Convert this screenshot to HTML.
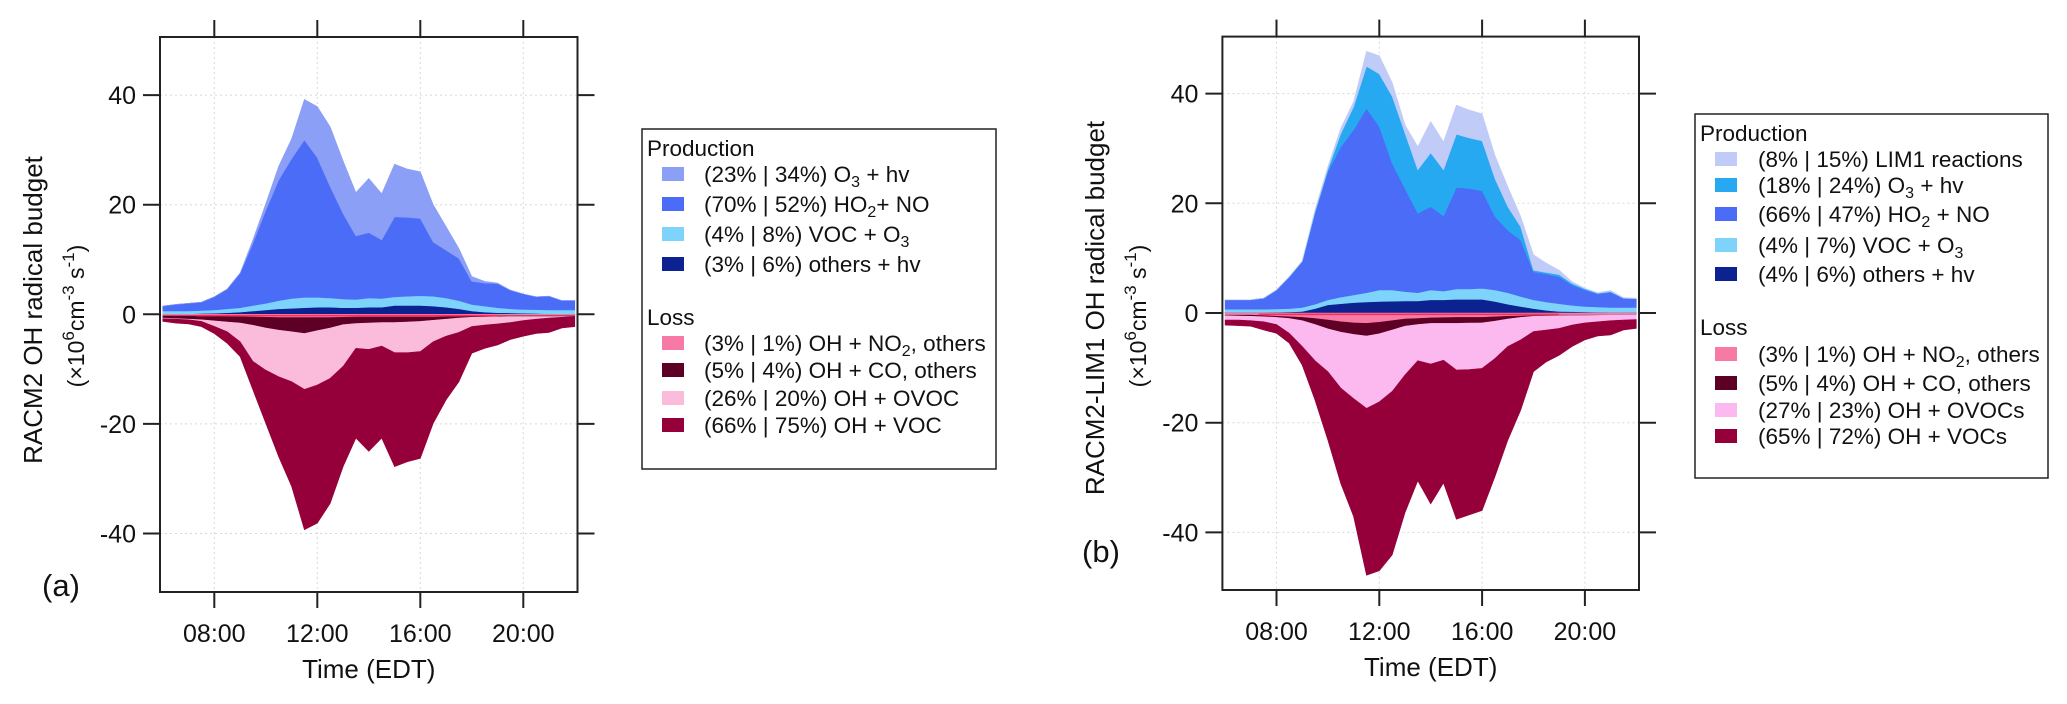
<!DOCTYPE html>
<html><head><meta charset="utf-8"><style>
html,body{margin:0;padding:0;background:#fff}
svg text{font-family:"Liberation Sans",Arial,sans-serif;fill:#111}
</style></head><body>
<svg id="fig" width="2067" height="699" viewBox="0 0 2067 699" xmlns="http://www.w3.org/2000/svg">
<g id="panelA"></g>
<g id="panelB"></g>
<text x="42" y="596" font-size="31">(a)</text>
<text x="1082" y="562" font-size="31">(b)</text>
<text transform="translate(42,310) rotate(-90)" text-anchor="middle" font-size="26">RACM2 OH radical budget</text>
<text transform="translate(84,316) rotate(-90)" text-anchor="middle" font-size="23">(×10<tspan dy="-10" font-size="17">6</tspan><tspan dy="10">cm</tspan><tspan dy="-10" font-size="17">-3</tspan><tspan dy="10"> s</tspan><tspan dy="-10" font-size="17">-1</tspan><tspan dy="10">)</tspan></text>
<text transform="translate(1104,308) rotate(-90)" text-anchor="middle" font-size="26">RACM2-LIM1 OH radical budget</text>
<text transform="translate(1146,316) rotate(-90)" text-anchor="middle" font-size="23">(×10<tspan dy="-10" font-size="17">6</tspan><tspan dy="10">cm</tspan><tspan dy="-10" font-size="17">-3</tspan><tspan dy="10"> s</tspan><tspan dy="-10" font-size="17">-1</tspan><tspan dy="10">)</tspan></text>

<g>
<rect x="642" y="129" width="354" height="340" fill="#fff" stroke="#222" stroke-width="1.5"/>
<g font-size="22.5">
<text x="647" y="156">Production</text>
<rect x="662" y="167" width="22" height="14" fill="#8b9ff7"/><text x="704" y="182">(23% | 34%) O<tspan dy="5" font-size="16">3</tspan><tspan dy="-5"> + hv</tspan></text>
<rect x="662" y="197" width="22" height="14" fill="#4a6cf7"/><text x="704" y="212">(70% | 52%) HO<tspan dy="5" font-size="16">2</tspan><tspan dy="-5">+ NO</tspan></text>
<rect x="662" y="227" width="22" height="14" fill="#7dd3fa"/><text x="704" y="242">(4% | 8%) VOC + O<tspan dy="5" font-size="16">3</tspan></text>
<rect x="662" y="257" width="22" height="14" fill="#0c2290"/><text x="704" y="272">(3% | 6%)  others + hv</text>
<text x="647" y="325">Loss</text>
<rect x="662" y="336" width="22" height="14" fill="#f77aa6"/><text x="704" y="351">(3% | 1%) OH + NO<tspan dy="5" font-size="16">2</tspan><tspan dy="-5">, others</tspan></text>
<rect x="662" y="363" width="22" height="14" fill="#5e0025"/><text x="704" y="378">(5% | 4%) OH + CO, others</text>
<rect x="662" y="391" width="22" height="14" fill="#fbbcdc"/><text x="704" y="406">(26% | 20%) OH + OVOC</text>
<rect x="662" y="418" width="22" height="14" fill="#95003a"/><text x="704" y="433">(66% | 75%) OH + VOC</text>
</g></g>

<g>
<rect x="1695" y="114" width="353" height="364" fill="#fff" stroke="#222" stroke-width="1.5"/>
<g font-size="22.5">
<text x="1700" y="141">Production</text>
<rect x="1715" y="152" width="22" height="14" fill="#c0cbf8"/><text x="1758" y="167">(8% | 15%) LIM1 reactions</text>
<rect x="1715" y="178" width="22" height="14" fill="#27a9f2"/><text x="1758" y="193">(18% | 24%) O<tspan dy="5" font-size="16">3</tspan><tspan dy="-5"> + hv</tspan></text>
<rect x="1715" y="207" width="22" height="14" fill="#4a6cf7"/><text x="1758" y="222">(66% | 47%) HO<tspan dy="5" font-size="16">2</tspan><tspan dy="-5"> + NO</tspan></text>
<rect x="1715" y="238" width="22" height="14" fill="#7dd3fa"/><text x="1758" y="253">(4% | 7%) VOC + O<tspan dy="5" font-size="16">3</tspan></text>
<rect x="1715" y="267" width="22" height="14" fill="#0c2290"/><text x="1758" y="282">(4% | 6%)  others + hv</text>
<text x="1700" y="335">Loss</text>
<rect x="1715" y="347" width="22" height="14" fill="#f77aa6"/><text x="1758" y="362">(3% | 1%) OH + NO<tspan dy="5" font-size="16">2</tspan><tspan dy="-5">, others</tspan></text>
<rect x="1715" y="376" width="22" height="14" fill="#5e0025"/><text x="1758" y="391">(5% | 4%) OH + CO, others</text>
<rect x="1715" y="403" width="22" height="14" fill="#fbb9ef"/><text x="1758" y="418">(27% | 23%) OH + OVOCs</text>
<rect x="1715" y="429" width="22" height="14" fill="#95003a"/><text x="1758" y="444">(65% | 72%) OH + VOCs</text>
</g></g>
</svg>
<script>
// time axis (hours EDT)
const times = [6,6.5,7,7.5,8,8.5,9,9.5,10,10.5,11,11.5,12,12.5,13,13.5,14,14.5,15,15.5,16,16.5,17,17.5,18,18.5,19,19.5,20,20.5,21,21.5,22];
const xTickValues = [8,12,16,20];
const xTickLabels = ["08:00","12:00","16:00","20:00"];
const yTickValues = [-40,-20,0,20,40];
const yTickLabels = ["-40","-20","0","20","40"];

// Panel (a) production components (stack bottom -> top)
const aOthersHv = [0.1,0.1,0.1,0.15,0.2,0.3,0.4,0.6,0.8,1.0,1.1,1.2,1.3,1.3,1.2,1.2,1.3,1.3,1.6,1.6,1.6,1.5,1.3,1.0,0.6,0.4,0.3,0.25,0.2,0.15,0.1,0.1,0.1];
const aVocO3 = [0.5,0.5,0.5,0.55,0.6,0.7,0.8,1.0,1.2,1.5,1.8,1.9,1.8,1.7,1.6,1.5,1.7,1.6,1.6,1.7,1.8,1.8,1.7,1.5,1.2,1.1,0.9,0.75,0.7,0.7,0.7,0.7,0.7];
const aHo2No = [0.9,1.2,1.4,1.5,2.4,3.6,6.3,11.4,17,22,25.5,28.7,25.5,20.3,15.6,11.6,11.9,10.7,14.6,14.4,14.1,9.9,8.7,7.7,4.2,4.2,4.4,3.4,2.8,2.35,2.5,1.7,1.7];
const aO3Hv = [0,0,0,0,0,0,0,0.6,1.2,2.5,3.6,7.4,9.3,10.9,9.6,7.9,9.9,8.4,9.6,8.8,8.5,6.8,4.3,1.8,0.9,0.3,0.1,0,0,0,0,0,0];
// Panel (a) loss components (stack top -> bottom, magnitudes)
const aOhNo2 = [0.3,0.3,0.3,0.3,0.35,0.4,0.45,0.5,0.55,0.6,0.6,0.6,0.6,0.6,0.55,0.5,0.5,0.5,0.5,0.5,0.5,0.5,0.45,0.4,0.35,0.3,0.3,0.3,0.3,0.3,0.3,0.3,0.3];
const aOhCo = [0.4,0.5,0.6,0.7,0.85,1.0,1.15,1.5,1.95,2.3,2.6,2.9,2.4,1.9,1.35,1.2,1.1,1.0,1.0,0.9,0.8,0.6,0.45,0.3,0.2,0.2,0.15,0.1,0.1,0.1,0.1,0.1,0.1];
const aOhOvoc = [0.1,0.1,0.1,0.3,1.0,1.8,3.4,6.6,7.7,8.5,9.1,10.2,9.9,9.2,7.6,4.5,4.8,4.3,5.5,5.6,5.5,3.9,3.1,2.6,1.7,1.45,1.3,1.1,0.75,0.5,0.3,0.15,0];
const aOhVoc = [0.5,0.7,0.75,0.95,1.3,2.1,2.7,5.2,9.7,14.6,19.1,25.6,25.2,22.8,18.3,16.4,18.6,16.8,20.8,19.9,19.5,14.9,11.6,9.0,4.85,4.25,3.85,3.1,2.85,2.6,2.6,1.95,1.85];

// Panel (b) production components
const bOthersHv = [0.1,0.1,0.1,0.1,0.15,0.2,0.3,0.8,1.5,1.7,1.9,2.0,2.1,2.15,2.2,2.2,2.4,2.4,2.5,2.5,2.5,2.1,1.6,1.2,0.8,0.5,0.3,0.25,0.2,0.15,0.1,0.1,0.1];
const bVocO3 = [0.6,0.6,0.6,0.6,0.6,0.6,0.7,0.8,0.9,1.2,1.4,1.7,2.1,2.05,1.7,1.5,1.8,1.6,1.9,1.9,2.0,2.1,2.1,1.8,1.6,1.5,1.4,1.15,1.0,0.95,0.9,0.9,0.9];
const bHo2No = [1.7,1.7,1.7,2.0,3.45,5.8,8.4,16.6,23.4,27.4,30.1,33.6,29.8,23.1,18.8,14.5,15.2,13.7,18.5,18.3,17.8,13.4,11.4,10.3,5.1,5.1,4.9,3.7,3.0,2.4,2.8,1.7,1.6];
const bO3Hv = [0,0,0,0,0,0,0,0.3,0.4,2.4,4.2,7.7,9.6,12.2,10.1,7.9,9.8,8.4,9.7,9.2,9.1,6.9,4.3,2.4,0.3,0.3,0.4,0.3,0.2,0.1,0.1,0,0];
const bLim1 = [0,0,0,0,0,0,0,0.3,0.5,1.0,0.9,2.7,3.3,2.5,1.5,4.2,5.7,5.1,5.3,5.1,4.9,4.2,3.6,1.9,2.8,1.7,0.8,0.3,0.1,0.1,0.2,0.1,0.1];
// Panel (b) loss components
const bOhNo2 = [0.4,0.4,0.4,0.5,0.6,0.7,0.8,1.0,1.3,1.6,1.8,1.9,1.7,1.4,1.1,1.0,0.9,0.85,0.8,0.8,0.8,0.7,0.6,0.55,0.5,0.45,0.4,0.4,0.4,0.4,0.4,0.4,0.4];
const bOhCo = [0.1,0.15,0.2,0.2,0.2,0.3,0.6,1.1,1.6,1.9,2.1,2.3,2.1,1.7,1.3,1.1,1.0,1.05,1.1,1.05,1.0,0.8,0.5,0.25,0.1,0.1,0.1,0.07,0.05,0.03,0,0,0];
const bOhOvoc = [0.8,0.75,0.8,0.9,1.3,2.7,4.7,6.6,7.8,10.2,11.7,13.2,12.4,11.2,8.9,6.6,7.4,6.7,8.5,8.45,8.3,6.8,5.0,4.1,2.8,2.55,2.3,1.73,1.35,1.17,1.0,0.9,0.8];
const bOhVoc = [0.9,1.0,1.0,1.5,1.6,1.8,3.4,7.2,12.5,17.4,21.5,30.4,30.8,29.8,25.1,21.9,25.5,22.4,27.2,26.5,25.9,21.5,17.1,12.8,7.3,5.8,4.9,3.9,3.1,2.6,2.6,1.8,1.6];

const NS = "http://www.w3.org/2000/svg";
function mk(tag, attrs, parent){
  const e = document.createElementNS(NS, tag);
  for (const k in attrs) e.setAttribute(k, attrs[k]);
  parent.appendChild(e); return e;
}
function drawPanel(g, P, prod, loss, pref){
  const xs = t => P.x8 + (t-8)*P.ph;
  const ys = v => P.y0 - v*P.pu;
  xTickValues.forEach(t=>{
    const l = mk('line',{x1:xs(t),x2:xs(t),y1:P.top,y2:P.bot,stroke:'#d8d8d8','stroke-width':1,'stroke-dasharray':'2,3'},g);
    
    
  });
  yTickValues.forEach(v=>{
    const l = mk('line',{x1:P.left,x2:P.right,y1:ys(v),y2:ys(v),stroke:'#d8d8d8','stroke-width':1,'stroke-dasharray':'2,3'},g);
    
    
  });
  function area(lo, hi, color, name){
    let pts = [];
    for (let i=0;i<times.length;i++) pts.push(xs(times[i]).toFixed(1)+','+ys(hi[i]).toFixed(1));
    for (let i=times.length-1;i>=0;i--) pts.push(xs(times[i]).toFixed(1)+','+ys(lo[i]).toFixed(1));
    const p = mk('polygon',{points:pts.join(' '),fill:color,stroke:color,'stroke-width':0.6},g);
    
    
  }
  let base = times.map(()=>0);
  prod.forEach(s=>{
    const top = base.map((b,i)=>b+s.v[i]);
    area(base, top, s.c, pref+s.n);
    base = top;
  });
  base = times.map(()=>0);
  loss.forEach(s=>{
    const bot = base.map((b,i)=>b-s.v[i]);
    area(bot, base, s.c, pref+s.n);
    base = bot;
  });
  const rl = mk('line',{x1:xs(7.3),x2:xs(19),y1:ys(-0.25),y2:ys(-0.25),stroke:'#ff2a55','stroke-width':1.5},g);
  
  
  const fr = mk('rect',{x:P.left,y:P.top,width:P.right-P.left,height:P.bot-P.top,fill:'none',stroke:'#222','stroke-width':2},g);
  
  
  xTickValues.forEach((t,i)=>{
    mk('line',{x1:xs(t),x2:xs(t),y1:P.top-17,y2:P.top,stroke:'#222','stroke-width':2},g);
    mk('line',{x1:xs(t),x2:xs(t),y1:P.bot,y2:P.bot+16,stroke:'#222','stroke-width':2},g);
    const tx = mk('text',{x:xs(t),y:P.bot+50,'text-anchor':'middle','font-size':25},g);
    tx.textContent = xTickLabels[i];
    
    
  });
  yTickValues.forEach((v,i)=>{
    mk('line',{x1:P.left-17,x2:P.left,y1:ys(v),y2:ys(v),stroke:'#222','stroke-width':2},g);
    mk('line',{x1:P.right,x2:P.right+17,y1:ys(v),y2:ys(v),stroke:'#222','stroke-width':2},g);
    const tx = mk('text',{x:P.left-24,y:ys(v)+9,'text-anchor':'end','font-size':25},g);
    tx.textContent = yTickLabels[i];
    
    
  });
  const xt = mk('text',{x:(P.left+P.right)/2,y:P.bot+86,'text-anchor':'middle','font-size':26},g);
  xt.textContent = 'Time (EDT)';
  
  
}
drawPanel(document.getElementById('panelA'),
  {left:160,right:577.5,top:37,bot:592,x8:214.3,ph:25.75,y0:314.3,pu:5.48},
  [{v:aOthersHv,c:'#0c2290',n:'others-hv'},{v:aVocO3,c:'#7dd3fa',n:'voc-o3'},{v:aHo2No,c:'#4a6cf7',n:'ho2-no'},{v:aO3Hv,c:'#8b9ff7',n:'o3-hv'}],
  [{v:aOhNo2,c:'#f77aa6',n:'oh-no2'},{v:aOhCo,c:'#5e0025',n:'oh-co'},{v:aOhOvoc,c:'#fbbcdc',n:'oh-ovoc'},{v:aOhVoc,c:'#95003a',n:'oh-voc'}],
  'a-area-');
drawPanel(document.getElementById('panelB'),
  {left:1222.4,right:1639,top:36.6,bot:590,x8:1276.5,ph:25.7,y0:313,pu:5.485},
  [{v:bOthersHv,c:'#0c2290',n:'others-hv'},{v:bVocO3,c:'#7dd3fa',n:'voc-o3'},{v:bHo2No,c:'#4a6cf7',n:'ho2-no'},{v:bO3Hv,c:'#27a9f2',n:'o3-hv'},{v:bLim1,c:'#c0cbf8',n:'lim1'}],
  [{v:bOhNo2,c:'#f77aa6',n:'oh-no2'},{v:bOhCo,c:'#5e0025',n:'oh-co'},{v:bOhOvoc,c:'#fbb9ef',n:'oh-ovocs'},{v:bOhVoc,c:'#95003a',n:'oh-vocs'}],
  'b-area-');
</script>
</body></html>
